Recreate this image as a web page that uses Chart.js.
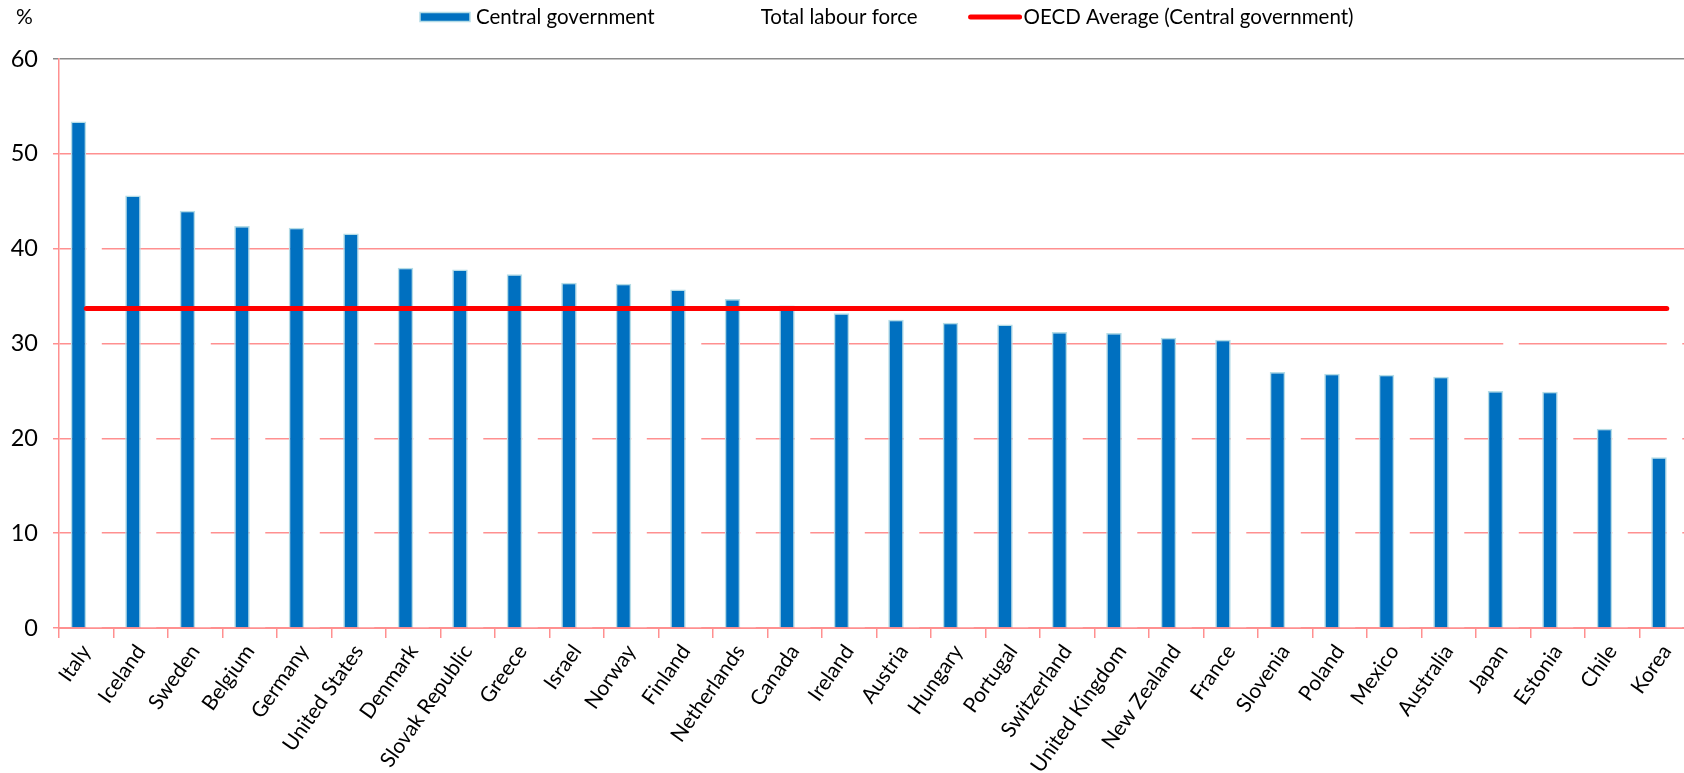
<!DOCTYPE html>
<html>
<head>
<meta charset="utf-8">
<title>Central government vs total labour force</title>
<script src="https://cdn.jsdelivr.net/npm/chart.js@4/dist/chart.umd.min.js"></script>
<style>
  html, body { margin: 0; padding: 0; background: #fff; overflow: hidden; }
  #wrap { position: relative; width: 1700px; height: 773px; }
</style>
</head>
<body>
<div id="wrap"><canvas id="chart"></canvas></div>
<script>
// Countries, sorted as in the original chart
const countries = [
    'Italy', 'Iceland', 'Sweden', 'Belgium', 'Germany', 'United States',
    'Denmark', 'Slovak Republic', 'Greece', 'Israel', 'Norway', 'Finland',
    'Netherlands', 'Canada', 'Ireland', 'Austria', 'Hungary', 'Portugal',
    'Switzerland', 'United Kingdom', 'New Zealand', 'France', 'Slovenia',
    'Poland', 'Mexico', 'Australia', 'Japan', 'Estonia', 'Chile', 'Korea'
];

// Central government (%)
const centralGov = [
    53.4, 45.6, 44.0, 42.4, 42.2, 41.6, 38.0, 37.8, 37.3, 36.4,
    36.3, 35.7, 34.7, 34.0, 33.2, 32.5, 32.2, 32.0, 31.2, 31.1,
    30.6, 30.4, 27.0, 26.8, 26.7, 26.5, 25.0, 24.9, 21.0, 18.0
];

// Total labour force (%) - drawn in white in the original
const labourForce = [
    40.9, 29.6, 31.0, 23.0, 28.1, 30.2, 27.2, 23.3, 24.6, 25.4,
    28.7, 30.6, 25.7, 27.9, 22.2, 21.9, 24.8, 28.2, 28.3, 26.7,
    29.4, 24.4, 23.6, 23.5, 21.2, 26.0, 31.0, 27.0, 24.0, 30.3
];

// OECD average (central government)
const oecdAverage = [
    33.7, 33.7, 33.7, 33.7, 33.7, 33.7, 33.7, 33.7, 33.7, 33.7,
    33.7, 33.7, 33.7, 33.7, 33.7, 33.7, 33.7, 33.7, 33.7, 33.7,
    33.7, 33.7, 33.7, 33.7, 33.7, 33.7, 33.7, 33.7, 33.7, 33.7
];

const yTicks = [0, 10, 20, 30, 40, 50, 60];

const fontFamily = 'Lato, "Open Sans", sans-serif';
const gridPink = '#ff9090';

// "%" unit label and the legend row, drawn like the Excel original
const topTexts = {
    id: 'topTexts',
    afterDraw(chart) {
        const ctx = chart.ctx;
        const y = 17;
        ctx.save();
        ctx.fillStyle = '#000';
        ctx.textBaseline = 'middle';
        ctx.font = '21px ' + fontFamily;
        ctx.fillText('%', 16, y);

        ctx.font = '20.5px ' + fontFamily;
        let x = 420;
        chart.data.datasets.forEach(ds => {
            if (ds.type === 'line') {
                ctx.strokeStyle = ds.borderColor;
                ctx.lineWidth = ds.borderWidth;
                ctx.lineCap = 'round';
                ctx.beginPath();
                ctx.moveTo(x + 3, y);
                ctx.lineTo(x + 52, y);
                ctx.stroke();
            } else {
                ctx.fillStyle = ds.backgroundColor;
                ctx.fillRect(x, y - 4.5, 50, 9);
                ctx.strokeStyle = ds.borderColor;
                ctx.lineWidth = 1.5;
                ctx.strokeRect(x, y - 4.5, 50, 9);
            }
            ctx.fillStyle = '#000';
            ctx.fillText(ds.label, x + 56, y);
            x += 56 + ctx.measureText(ds.label).width + 50;
        });
        ctx.restore();
    }
};

const ctx = document.getElementById('chart').getContext('2d');

window.myChart = new Chart(ctx, {
    type: 'bar',
    data: {
        labels: countries,
        datasets: [
            {
                label: 'Central government',
                data: centralGov,
                backgroundColor: '#0070c0',
                borderColor: '#b4dce6',
                borderWidth: 1.5,
                categoryPercentage: 0.57,
                barPercentage: 1.0
            },
            {
                label: 'Total labour force',
                data: labourForce,
                backgroundColor: '#ffffff',
                borderColor: '#ffffff',
                borderWidth: 0,
                categoryPercentage: 0.57,
                barPercentage: 1.0
            },
            {
                type: 'line',
                label: 'OECD Average (Central government)',
                data: oecdAverage,
                borderColor: '#ff0000',
                backgroundColor: '#ff0000',
                borderWidth: 5,
                borderCapStyle: 'round',
                pointRadius: 0,
                order: -1
            }
        ]
    },
    options: {
        responsive: true,
        maintainAspectRatio: false,
        animation: false,
        layout: {
            padding: { left: 0, right: 6, top: 59, bottom: 0 }
        },
        plugins: {
            tooltip: { enabled: false },
            legend: { display: false }
        },
        scales: {
            x: {
                offset: true,
                afterFit: (scale) => {
                    scale.height = 145;
                    scale.paddingLeft = 0;
                    scale.paddingRight = 0;
                },
                grid: {
                    offset: true,
                    drawOnChartArea: false,
                    drawTicks: true,
                    tickLength: 10,
                    color: gridPink,
                    lineWidth: 1.5
                },
                border: { color: gridPink, width: 2 },
                ticks: {
                    font: { family: fontFamily, size: 21 },
                    color: '#000',
                    minRotation: 55,
                    maxRotation: 55,
                    autoSkip: false,
                    padding: 2
                }
            },
            y: {
                min: 0,
                max: 60,
                afterBuildTicks: (scale) => {
                    scale.ticks = yTicks.map(v => ({ value: v }));
                },
                afterFit: (scale) => {
                    scale.width = 59;
                    scale.paddingTop = 0;
                    scale.paddingBottom = 0;
                },
                grid: {
                    color: (c) => c.tick && c.tick.value === 60 ? '#8a8a8a' : gridPink,
                    lineWidth: 1.5,
                    drawTicks: true,
                    tickLength: 6
                },
                border: { color: gridPink, width: 1.5 },
                ticks: {
                    font: { family: fontFamily, size: 23.5 },
                    color: '#000',
                    padding: 15
                }
            }
        }
    },
    plugins: [topTexts]
});
</script>
</body>
</html>
